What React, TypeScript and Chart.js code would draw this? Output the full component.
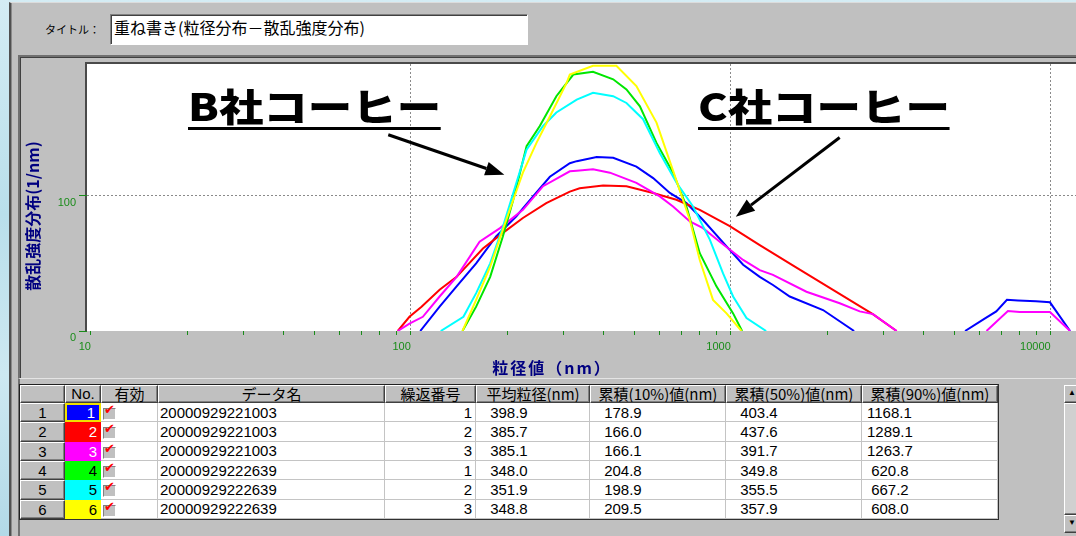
import React, { useEffect, useRef } from 'react';
import { Chart, registerables } from 'chart.js';

Chart.register(...registerables);

// ---------- data ----------
const seriesNo = [1, 2, 3, 4, 5, 6];
const seriesColors = ['#0000ff', '#ff0000', '#ff00ff', '#00e600', '#00ffff', '#ffff00'];
const cellColors = ['#0000ff', '#ff0000', '#ff00ff', '#00ff00', '#00ffff', '#ffff00'];
const noTextColors = ['#ffffff', '#ffffff', '#ffffff', '#000000', '#000000', '#000000'];
const dataNames = ['20000929221003', '20000929221003', '20000929221003', '20000929222639', '20000929222639', '20000929222639'];
const repeatNos = [1, 2, 3, 1, 2, 3];
const meanSizes = [398.9, 385.7, 385.1, 348.0, 351.9, 348.8];
const cum10 = [178.9, 166.0, 166.1, 204.8, 198.9, 209.5];
const cum50 = [403.4, 437.6, 391.7, 349.8, 355.5, 357.9];
const cum90 = [1168.1, 1289.1, 1263.7, 620.8, 667.2, 608.0];

const tableHeaders = ['', 'No.', '有効', 'データ名', '繰返番号', '平均粒径(nm)', '累積(10%)値(nm)', '累積(50%)値(nm)', '累積(90%)値(nm)'];

// particle size (nm) / scattering intensity distribution
const s1Size = [107, 123, 139, 160, 185, 214, 241, 272, 314, 330, 381, 429, 507, 572, 645, 727, 819, 970, 1093, 1232, 1355, 1529, 1943, 2430];
const s1Val = [0, 18, 33, 50, 70, 85, 99.5, 114, 124, 125.5, 128.5, 128, 121.5, 113, 102, 94.5, 82, 62.5, 49, 40, 34, 25.5, 15.5, 0];
const s1PeakSize = [5400, 6200, 6760, 7300, 7900, 9000, 9950, 11500];
const s1PeakVal = [0, 9, 14.5, 23, 22.6, 22, 21.2, 0];

const s2Size = [91, 99, 108, 123, 139, 168, 194, 224, 265, 314, 337, 399, 472, 572, 676, 800, 993, 1232, 1600, 2100, 2780, 3300];
const s2Val = [0, 10.5, 18, 30.5, 40, 61, 72.5, 83.5, 94.5, 103, 105.5, 107.5, 107, 102, 97, 89.5, 77.5, 63.5, 47, 30, 12.5, 0];

const s3Size = [91, 99, 109, 123, 139, 164, 190, 224, 259, 314, 330, 371, 419, 507, 600, 660, 745, 819, 924, 1093, 1232, 1355, 1724, 2191, 2530, 2784, 3300];
const s3Val = [0, 5.5, 10.5, 25.5, 40, 66, 76, 89.5, 107, 118, 118.5, 119.5, 117, 109.5, 99.5, 92, 81, 76, 66, 52.5, 45, 41.5, 29, 20.5, 14.5, 12.5, 0];
const s3PeakSize = [6300, 7350, 8000, 9950, 11500];
const s3PeakVal = [0, 14.8, 14, 14, 0];

const s4Size = [145, 160, 177, 194, 209, 230, 253, 285, 322, 371, 429, 472, 520, 586, 660, 727, 800, 902, 1017, 1085];
const s4Val = [0, 18, 40, 70, 97, 136.5, 151.5, 173.5, 189.5, 191.5, 186, 178.5, 166, 139, 117, 92, 57.5, 33, 13, 0];

const s5Size = [124, 146, 160, 177, 194, 209, 230, 259, 285, 330, 371, 429, 472, 532, 600, 677, 762, 860, 946, 1017, 1120, 1290];
const s5Val = [0, 10.5, 28, 50, 77, 102, 134, 151.5, 161.5, 171, 176, 173.5, 168.5, 156.5, 131.5, 109.5, 92, 67.5, 42.5, 25.5, 9.5, 0];

const s6Size = [145, 160, 177, 194, 209, 224, 247, 272, 307, 314, 371, 439, 507, 586, 660, 745, 800, 880, 970, 1080];
const s6Val = [0, 23, 47.5, 75, 97, 117, 139, 158.5, 183.5, 189.5, 196, 196, 181, 154, 118.5, 82, 52.5, 23, 13, 0];

const xMajorTicks = [10, 100, 1000, 10000];
const xTickLabels = ['10', '100', '1000', '10000'];
const yTicks = [0, 100];
const yTickLabels = ['0', '100'];
const X_MIN = 9.72;
const X_MAX = 12000;
const Y_MAX = 197.3;

const yTitle = '散乱強度分布(1/nm)';
const xTitle = '粒径値（nm）';
const noteTexts = ['B社コーヒー', 'C社コーヒー'];
const arrowFromSize = [85, 2190];
const arrowFromVal = [145, 143];
const arrowToSize = [196, 1037];
const arrowToVal = [115.5, 84.5];

// ---------- helpers ----------
const pts = (s: number[], v: number[]) => s.map((x, i) => ({ x, y: v[i] }));
const seriesMain = [pts(s1Size, s1Val), pts(s2Size, s2Val), pts(s3Size, s3Val), pts(s4Size, s4Val), pts(s5Size, s5Val), pts(s6Size, s6Val)];
const seriesExtra: { idx: number; data: { x: number; y: number }[] }[] = [
  { idx: 0, data: pts(s1PeakSize, s1PeakVal) },
  { idx: 2, data: pts(s3PeakSize, s3PeakVal) },
];
const xTickValues: number[] = [];
xMajorTicks.forEach((d, i) => {
  if (i < xMajorTicks.length - 1) {
    for (let k = 1; k <= 9; k++) xTickValues.push(d * k);
  } else xTickValues.push(d);
});

const LAT = '"Liberation Sans", Arial, "Noto Sans CJK JP", sans-serif';
const JP = '"Noto Sans CJK JP", "Liberation Sans", sans-serif';
const GREEN = '#1a8c1a';

const framePlugin = {
  id: 'frame',
  beforeDraw(chart: any) {
    const { ctx, chartArea: a } = chart;
    ctx.save();
    ctx.fillStyle = '#ffffff';
    ctx.fillRect(a.left, a.top, a.right - a.left, a.bottom - a.top);
    ctx.fillStyle = '#4a4a4a';
    ctx.fillRect(a.left - 2, a.top - 2, a.right - a.left + 2, 2);
    ctx.fillRect(a.left - 2, a.top - 2, 2, a.bottom - a.top + 2);
    ctx.restore();
  },
};

const arrowPlugin = {
  id: 'arrows',
  afterDatasetsDraw(chart: any) {
    const { ctx, scales } = chart;
    const sx = scales.x, sy = scales.y;
    ctx.save();
    ctx.strokeStyle = '#000';
    ctx.fillStyle = '#000';
    ctx.lineWidth = 3;
    for (let i = 0; i < arrowFromSize.length; i++) {
      const x0 = sx.getPixelForValue(arrowFromSize[i]);
      const y0 = sy.getPixelForValue(arrowFromVal[i]);
      const x1 = sx.getPixelForValue(arrowToSize[i]);
      const y1 = sy.getPixelForValue(arrowToVal[i]);
      const ang = Math.atan2(y1 - y0, x1 - x0);
      const hl = 19, hw = 7;
      const bx = x1 - hl * Math.cos(ang);
      const by = y1 - hl * Math.sin(ang);
      ctx.beginPath();
      ctx.moveTo(x0, y0);
      ctx.lineTo(bx, by);
      ctx.stroke();
      ctx.beginPath();
      ctx.moveTo(x1, y1);
      ctx.lineTo(bx + hw * Math.sin(ang), by - hw * Math.cos(ang));
      ctx.lineTo(bx - hw * Math.sin(ang), by + hw * Math.cos(ang));
      ctx.closePath();
      ctx.fill();
    }
    ctx.restore();
  },
};

// ---------- layout constants ----------
const colW = [45, 36, 57, 227, 91, 114, 136, 136, 136];
const TABLE_L = 20;
const TABLE_T = 385;
const HEAD_H = 18;
const ROW_H = 19.33;

const raised: React.CSSProperties = {
  background: '#c0c0c0',
  borderTop: '1px solid #ffffff',
  borderLeft: '1px solid #ffffff',
  borderRight: '1px solid #404040',
  borderBottom: '1px solid #404040',
  boxShadow: 'inset -1px -1px 0 #808080',
  boxSizing: 'border-box',
};

function fmt(v: number) {
  return v.toFixed(1).padStart(6, ' ');
}

export default function App() {
  const ref = useRef<HTMLCanvasElement>(null);

  useEffect(() => {
    const datasets: any[] = seriesMain.map((d, i) => ({
      label: String(seriesNo[i]),
      data: d,
      borderColor: seriesColors[i],
      backgroundColor: seriesColors[i],
      borderWidth: 2,
      pointRadius: 0,
      tension: 0,
      fill: false,
      order: 10 - i,
    }));
    seriesExtra.forEach((e) =>
      datasets.push({
        label: String(seriesNo[e.idx]) + "'",
        data: e.data,
        borderColor: seriesColors[e.idx],
        backgroundColor: seriesColors[e.idx],
        borderWidth: 2,
        pointRadius: 0,
        tension: 0,
        fill: false,
        order: 10 - e.idx,
      })
    );
    const chart = new Chart(ref.current as HTMLCanvasElement, {
      type: 'line',
      data: { datasets },
      options: {
        animation: false,
        responsive: false,
        maintainAspectRatio: false,
        layout: { padding: { top: 64, left: 0, right: 0, bottom: 0 } },
        plugins: { legend: { display: false }, tooltip: { enabled: false } },
        scales: {
          x: {
            type: 'logarithmic',
            min: X_MIN,
            max: X_MAX,
            afterBuildTicks: (s: any) => {
              s.ticks = xTickValues.map((v) => ({ value: v }));
            },
            afterFit: (s: any) => {
              s.height = 49;
            },
            grid: {
              color: (c: any) => (c.tick && xMajorTicks.indexOf(c.tick.value) > 0 ? '#8a8a8a' : 'rgba(0,0,0,0)'),
              lineWidth: 1,
              drawTicks: true,
              tickLength: 4,
              tickColor: GREEN,
              tickWidth: 1,
            },
            border: { display: false, dash: [2, 2] },
            ticks: {
              autoSkip: false,
              maxRotation: 0,
              minRotation: 0,
              align: 'end',
              padding: 5,
              color: GREEN,
              font: { family: LAT, size: 11 },
              callback: (v: any) => {
                const i = xMajorTicks.indexOf(Number(v));
                return i >= 0 ? xTickLabels[i] : '';
              },
            },
          },
          y: {
            type: 'linear',
            min: 0,
            max: Y_MAX,
            afterBuildTicks: (s: any) => {
              s.ticks = yTicks.map((v) => ({ value: v }));
            },
            afterFit: (s: any) => {
              s.width = 87;
            },
            grid: {
              color: (c: any) => (c.tick && c.tick.value === 100 ? '#8a8a8a' : 'rgba(0,0,0,0)'),
              lineWidth: 1,
              drawTicks: true,
              tickLength: 8,
              tickColor: GREEN,
            },
            border: { display: false, dash: [2, 2] },
            ticks: {
              padding: 3,
              labelOffset: 7,
              color: GREEN,
              font: { family: LAT, size: 11 },
              callback: (v: any) => {
                const i = yTicks.indexOf(Number(v));
                return i >= 0 ? yTickLabels[i] : '';
              },
            },
          },
        },
      } as any,
      plugins: [framePlugin, arrowPlugin],
    });
    return () => chart.destroy();
  }, []);

  const colX: number[] = [];
  colW.reduce((acc, w) => {
    colX.push(acc);
    return acc + w;
  }, TABLE_L);
  const tableW = colW.reduce((a, b) => a + b, 0);

  const cells: React.ReactNode[] = [];
  tableHeaders.forEach((h, c) => {
    cells.push(
      <div
        key={'h' + c}
        style={{
          ...raised,
          position: 'absolute',
          left: colX[c],
          top: TABLE_T,
          width: colW[c],
          height: HEAD_H,
          display: 'flex',
          alignItems: 'center',
          justifyContent: 'center',
          fontFamily: c === 1 ? LAT : JP,
          fontSize: 15,
          color: '#000',
          whiteSpace: 'nowrap',
          overflow: 'hidden',
          lineHeight: '16px',
        }}
      >
        {h}
      </div>
    );
  });
  seriesNo.forEach((n, r) => {
    const top = TABLE_T + HEAD_H + r * ROW_H;
    const base: React.CSSProperties = {
      position: 'absolute',
      top,
      height: ROW_H,
      display: 'flex',
      alignItems: 'center',
      boxSizing: 'border-box',
      fontFamily: LAT,
      fontSize: 15,
      color: '#000',
      whiteSpace: 'pre',
      overflow: 'hidden',
    };
    const white: React.CSSProperties = {
      ...base,
      background: '#ffffff',
      borderRight: '1px solid #c4c4c4',
      borderBottom: '1px solid #c4c4c4',
    };
    cells.push(
      <div key={'rh' + r} style={{ ...base, ...raised, left: colX[0], width: colW[0], justifyContent: 'center' }}>
        {String(n)}
      </div>
    );
    cells.push(
      <div
        key={'no' + r}
        style={{
          ...base,
          left: colX[1],
          width: colW[1],
          background: cellColors[r],
          color: noTextColors[r],
          justifyContent: 'flex-end',
          paddingRight: 4,
          border: r === 0 ? '2px solid #f0e000' : 'none',
        }}
      >
        {String(n)}
      </div>
    );
    cells.push(
      <div key={'ok' + r} style={{ ...white, left: colX[2], width: colW[2] }}>
        <span
          style={{
            position: 'absolute',
            left: 2,
            top: 5,
            width: 13,
            height: 12,
            background: '#c0c0c0',
            borderTop: '1px solid #808080',
            borderLeft: '1px solid #808080',
            borderRight: '1px solid #ffffff',
            borderBottom: '1px solid #ffffff',
            boxSizing: 'border-box',
          }}
        />
        <span
          style={{
            position: 'absolute',
            left: 3,
            top: -1,
            fontFamily: '"DejaVu Sans", sans-serif',
            fontSize: 13,
            color: '#ff0000',
            lineHeight: '16px',
          }}
        >
          {'\u2714'}
        </span>
      </div>
    );
    cells.push(
      <div key={'dn' + r} style={{ ...white, left: colX[3], width: colW[3], paddingLeft: 2 }}>
        {dataNames[r]}
      </div>
    );
    cells.push(
      <div key={'rp' + r} style={{ ...white, left: colX[4], width: colW[4], justifyContent: 'flex-end', paddingRight: 3 }}>
        {String(repeatNos[r])}
      </div>
    );
    const nums = [meanSizes[r], cum10[r], cum50[r], cum90[r]];
    nums.forEach((v, k) => {
      const c = 5 + k;
      cells.push(
        <div key={'v' + c + r} style={{ ...white, left: colX[c], width: colW[c], paddingLeft: k === 3 ? 5 : 10 }}>
          {fmt(v)}
        </div>
      );
    });
  });

  return (
    <div
      style={{
        position: 'fixed',
        left: 0,
        top: 0,
        width: 1076,
        height: 536,
        overflow: 'hidden',
        background: 'linear-gradient(180deg, #d4ecf4 0%, #b9dfeb 40%, #cde8f1 70%, #b2d9e7 100%)',
      }}
    >
      <div
        style={{
          position: 'absolute',
          left: 9,
          top: 2,
          width: 1100,
          height: 560,
          background: '#c0c0c0',
          borderLeft: '2px solid #505050',
          boxShadow: 'inset 1px 0 0 #8a8a8a',
          borderTop: '1px solid #dcdcdc',
          boxSizing: 'border-box',
        }}
      />
      <div style={{ position: 'absolute', left: 45, top: 22, fontFamily: JP, fontSize: 11, lineHeight: '14px', color: '#000', whiteSpace: 'nowrap' }}>
        タイトル：
      </div>
      <div
        style={{
          position: 'absolute',
          left: 110,
          top: 14,
          width: 418,
          height: 31,
          background: '#ffffff',
          borderTop: '1px solid #808080',
          borderLeft: '1px solid #808080',
          borderRight: '1px solid #ffffff',
          borderBottom: '1px solid #ffffff',
          boxShadow: 'inset 1px 1px 0 #404040',
          boxSizing: 'border-box',
          fontFamily: JP,
          fontSize: 16,
          lineHeight: '18px',
          paddingLeft: 3,
          paddingTop: 3,
          color: '#000',
          whiteSpace: 'nowrap',
        }}
      >
        重ね書き(粒径分布－散乱強度分布)
      </div>
      <div
        style={{
          position: 'absolute',
          left: 18,
          top: 55,
          width: 1100,
          height: 323,
          background: '#c0c0c0',
          borderTop: '2px solid #707070',
          borderLeft: '2px solid #707070',
          boxShadow: 'inset 1px 1px 0 #404040',
          boxSizing: 'border-box',
        }}
      />
      <canvas
        ref={ref}
        width={1076}
        height={380}
        style={{ position: 'absolute', left: 0, top: 0, width: 1076, height: 380, display: 'block' }}
      />
      <div
        style={{
          position: 'absolute',
          left: 32 - 100,
          top: 216 - 11,
          width: 200,
          height: 22,
          transform: 'rotate(-90deg)',
          textAlign: 'center',
          fontFamily: JP,
          fontWeight: 700,
          fontSize: 16,
          lineHeight: '22px',
          color: '#000080',
          whiteSpace: 'nowrap',
        }}
      >
        {yTitle}
      </div>
      <div
        style={{
          position: 'absolute',
          left: 552 - 100,
          top: 367 - 11,
          width: 200,
          height: 22,
          textAlign: 'center',
          fontFamily: JP,
          fontWeight: 700,
          fontSize: 16,
          lineHeight: '22px',
          letterSpacing: 2,
          color: '#000080',
          whiteSpace: 'nowrap',
        }}
      >
        {xTitle}
      </div>
      {noteTexts.map((t, i) => (
        <div
          key={'note' + i}
          style={{
            position: 'absolute',
            left: i === 0 ? 188 : 698,
            top: 86,
            fontFamily: JP,
            fontWeight: 900,
            fontSize: 38,
            lineHeight: '38px',
            height: 41,
            letterSpacing: 0,
            color: '#000',
            borderBottom: '3px solid #000',
            transform: 'scaleX(1.17)',
            transformOrigin: 'left top',
            whiteSpace: 'nowrap',
            boxSizing: 'content-box',
          }}
        >
          {t}
        </div>
      ))}
      <div
        style={{
          position: 'absolute',
          left: 18,
          top: 378,
          width: 1100,
          height: 200,
          background: '#c0c0c0',
          borderTop: '1px solid #e4e4e4',
          borderLeft: '2px solid #707070',
          boxSizing: 'border-box',
        }}
      />
      <div
        style={{
          position: 'absolute',
          left: TABLE_L - 1,
          top: TABLE_T - 1,
          width: tableW + 2,
          height: HEAD_H + ROW_H * 6 + 2,
          border: '1px solid #202020',
          borderRight: '2px solid #303030',
          borderBottom: '2px solid #303030',
          boxSizing: 'border-box',
        }}
      />
      {cells}
      <div style={{ ...raised, position: 'absolute', left: 1064, top: 385, width: 18, height: 18, fontSize: 8, lineHeight: '14px', paddingLeft: 3 }}>▲</div>
      <div
        style={{
          ...raised,
          position: 'absolute',
          left: 1064,
          top: 403,
          width: 18,
          height: 112,
          background: '#d0d0d0',
        }}
      />
      <div style={{ ...raised, position: 'absolute', left: 1064, top: 515, width: 18, height: 18, fontSize: 8, lineHeight: '14px', paddingLeft: 3 }}>▼</div>
    </div>
  );
}
